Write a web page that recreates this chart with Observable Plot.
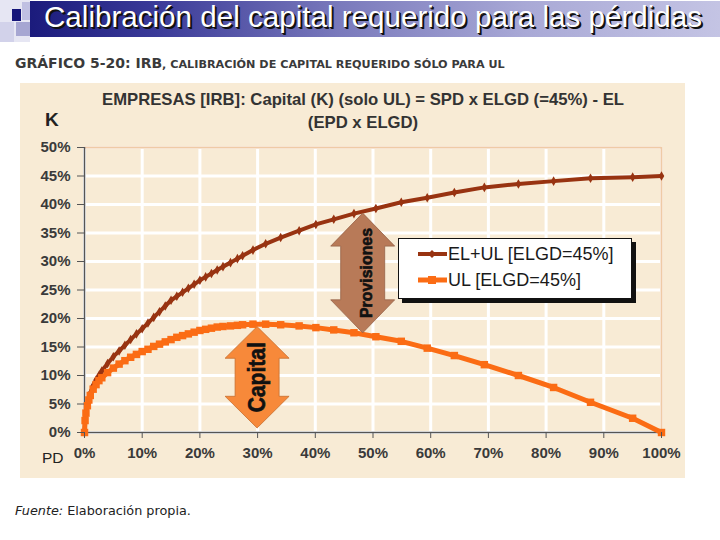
<!DOCTYPE html>
<html>
<head>
<meta charset="utf-8">
<script src="https://cdn.jsdelivr.net/npm/d3@7"></script>
<script src="https://cdn.jsdelivr.net/npm/@observablehq/plot@0.6"></script>
<style>
  html, body { margin: 0; padding: 0; background: #ffffff; }
  #page { position: relative; width: 720px; height: 540px; overflow: hidden; background: #fff; font-family: "Liberation Sans", Arial, sans-serif; }
  .abs { position: absolute; }
  #banner { left: 30px; top: 1px; width: 690px; height: 36px;
    background: linear-gradient(to right, #1b1b7c 0%, #3a3a98 18%, #7a7abc 45%, #a9a9d6 72%, #c4c4e4 100%); }
  #bannerText { left: 44px; top: 0px; font-size: 29.6px; color: #fff; white-space: nowrap;
    text-shadow: 2px 2px 0 #111, 1px 1px 0 #111; }
  #sub { left: 15px; top: 53px; font-family: "DejaVu Sans", Verdana, sans-serif; font-weight: bold; color: #3a3a3a; white-space: nowrap; }
  #sub .big { font-size: 14px; }
  #sub .small { font-size: 11.2px; }
  #panel { left: 20px; top: 83px; width: 665px; height: 395px; background: #f8ebd5; }
  #ctitle { left: 60px; width: 606px; top: 88px; text-align: center; font-size: 16.7px; font-weight: bold; color: #333; line-height: 23px; }
  #klab { left: 45px; top: 109px; font-size: 19px; font-weight: bold; color: #222; }
  #pdlab { left: 42px; top: 449px; font-size: 15.5px; color: #222; }
  #legend { left: 398px; top: 238px; width: 232px; height: 59px; background: #fff; border: 1.5px solid #111; box-shadow: 4px 4px 0 #111; }
  .lrow { position: absolute; left: 18px; height: 24px; display: flex; align-items: center; font-size: 18px; color: #1a1a1a; white-space: nowrap; }
  #source { left: 15px; top: 503px; font-family: "DejaVu Sans", Verdana, sans-serif; font-size: 12.8px; color: #222; }
</style>
</head>
<body>
<div id="page">
  <div class="abs" style="left:0;top:0;width:30px;height:42px;background:#e6e6f3"></div>
  <div class="abs" style="left:0;top:22px;width:14px;height:20px;background:#d2d2ea"></div>
  <div class="abs" style="left:16px;top:22px;width:14px;height:14px;background:#a6a6d2"></div>
  <div class="abs" style="left:12px;top:9px;width:9px;height:12px;background:#15157a"></div>
  <div class="abs" style="left:22px;top:2px;width:8px;height:18px;background:#c0c0e2"></div>
  <div id="banner" class="abs"></div>
  <div id="bannerText" class="abs">Calibración del capital requerido para las pérdidas</div>
  <div id="sub" class="abs"><span class="big">GRÁFICO 5-20: IRB</span><span class="small">, CALIBRACIÓN DE CAPITAL REQUERIDO SÓLO PARA UL</span></div>
  <div id="panel" class="abs"></div>
  <div id="chart" class="abs" style="left:20px;top:83px;"></div>
  <div id="ctitle" class="abs"></div>
  <div id="klab" class="abs">K</div>
  <div id="pdlab" class="abs">PD</div>
  <div id="legend" class="abs"></div>
  <div id="source" class="abs"><i>Fuente:</i> Elaboración propia.</div>
</div>
<script>
// ---- data ----
const pd = [0, 0.1, 0.25, 0.5, 0.75, 1, 1.5, 2, 2.5, 3, 4, 5, 6, 7, 8, 9, 10, 11, 12, 13, 14, 15, 16, 17, 18, 19, 20, 21, 22, 23, 24, 25.3, 26.5, 27.4, 29.2, 31.4, 34, 37.2, 40.1, 43.2, 46.7, 50.5, 54.9, 59.4, 64.1, 69.3, 75.2, 81.3, 87.7, 95, 100];
const elUl = [0, 2.2, 3.5, 4.9, 6.0, 6.9, 8.2, 9.2, 10.0, 10.8, 12.1, 13.3, 14.3, 15.3, 16.3, 17.3, 18.2, 19.2, 20.2, 21.2, 22.2, 23.2, 23.9, 24.6, 25.3, 26.0, 26.7, 27.3, 27.9, 28.5, 29.1, 29.8, 30.5, 31.0, 32.0, 33.1, 34.2, 35.4, 36.5, 37.4, 38.4, 39.3, 40.4, 41.2, 42.1, 43.0, 43.6, 44.1, 44.6, 44.8, 45.0];
const ulOnly = [0, 2.1, 3.4, 4.7, 5.7, 6.5, 7.6, 8.4, 9.1, 9.6, 10.5, 11.3, 12.0, 12.6, 13.2, 13.7, 14.2, 14.6, 15.1, 15.5, 15.9, 16.3, 16.7, 17.0, 17.3, 17.6, 17.9, 18.1, 18.3, 18.5, 18.6, 18.7, 18.8, 18.9, 19.0, 19.0, 18.9, 18.7, 18.4, 18.0, 17.5, 16.8, 16.0, 14.8, 13.5, 11.9, 10.0, 7.9, 5.3, 2.5, 0];
const seriesNames = ["EL+UL [ELGD=45%]", "UL [ELGD=45%]"];
const xTicks = [0, 10, 20, 30, 40, 50, 60, 70, 80, 90, 100];
const yTicks = [0, 5, 10, 15, 20, 25, 30, 35, 40, 45, 50];
const chartTitle = ["EMPRESAS [IRB]: Capital (K) (solo UL) = SPD x ELGD (=45%) - EL", "(EPD x ELGD)"];
const arrowLabels = ["Capital", "Provisiones"];
const arrowX = [30, 48.3];
const arrowFrom = [0.7, 17.4];
const arrowTo = [18.5, 38.4];

// ---- styles ----
const darkColor = "#983311";
const orangeColor = "#fb6c14";
const arrowFills = ["#f7893a", "#b87a58"];
const arrowFont = [23, 17];
const arrowTextLen = [70, 90];

const rowsEl = pd.map((p, i) => ({pd: p, k: elUl[i], s: seriesNames[0]}));
const rowsUl = pd.map((p, i) => ({pd: p, k: ulOnly[i], s: seriesNames[1]}));
const arrows = arrowLabels.map((l, i) => ({label: l, x: arrowX[i], y1: arrowFrom[i], y2: arrowTo[i], fill: arrowFills[i], fs: arrowFont[i], len: arrowTextLen[i]}));

document.getElementById("ctitle").innerHTML = chartTitle.join("<br>");

function arrowMark(index, scales) {
  const g = d3.create("svg:g");
  for (const a of arrows) {
    const cx = scales.x(a.x), top = scales.y(a.y2), bot = scales.y(a.y1);
    const HW = 32, SW = 22, HH = Math.min(33, (bot - top) / 3.2);
    const pts = [[cx, top], [cx + HW, top + HH], [cx + SW, top + HH], [cx + SW, bot - HH], [cx + HW, bot - HH], [cx, bot],
                 [cx - HW, bot - HH], [cx - SW, bot - HH], [cx - SW, top + HH], [cx - HW, top + HH]];
    g.append("polygon").attr("points", pts.map(p => p.join(",")).join(" "))
      .attr("fill", a.fill).attr("stroke", d3.color(a.fill).darker(0.6)).attr("stroke-width", 0.8);
    const my = (top + bot) / 2;
    g.append("text").attr("transform", `translate(${cx + (a.fs > 20 ? 0 : 3)},${my}) rotate(-90)`)
      .attr("text-anchor", "middle").attr("dy", "0.36em")
      .attr("font-family", "'Liberation Sans', Arial, sans-serif")
      .attr("font-weight", "bold").attr("font-size", a.fs)
      .attr("textLength", a.len).attr("lengthAdjust", "spacingAndGlyphs")
      .attr("stroke", "#111").attr("stroke-width", 0.6)
      .attr("fill", "#111").text(a.label);
  }
  return g.node();
}

const chart = Plot.plot({
  width: 665,
  height: 395,
  marginLeft: 64,
  marginRight: 24,
  marginTop: 64,
  marginBottom: 46,
  style: {background: "transparent", fontFamily: "'Liberation Sans', Arial, sans-serif", fontSize: "15px", fontWeight: "bold", color: "#3a3a3a"},
  x: {domain: [0, 100]},
  y: {domain: [0, 50]},
  marks: [
    Plot.gridX(xTicks, {stroke: "#ffffff", strokeWidth: 3, strokeOpacity: 1}),
    Plot.gridY(yTicks, {stroke: "#ffffff", strokeWidth: 3, strokeOpacity: 1}),
    Plot.ruleY([50], {stroke: "#efcaa6", strokeWidth: 2}),
    Plot.ruleX([100], {stroke: "#efcaa6", strokeWidth: 2}),
    Plot.ruleX([0], {stroke: "#555", strokeWidth: 1.5}),
    Plot.ruleY([0], {stroke: "#555", strokeWidth: 1.5}),
    Plot.line(rowsEl, {x: "pd", y: "k", stroke: darkColor, strokeWidth: 4}),
    Plot.dot(rowsEl, {x: "pd", y: "k", symbol: "diamond", r: 2.9, fill: darkColor}),
    Plot.line(rowsUl, {x: "pd", y: "k", stroke: orangeColor, strokeWidth: 5}),
    Plot.dot(rowsUl, {x: "pd", y: "k", symbol: "square", r: 4.2, fill: orangeColor}),
    arrowMark,
    Plot.axisY({ticks: yTicks, tickFormat: d => d + "%", tickSize: 7, tickPadding: 7, stroke: "#555", fill: "#3a3a3a", label: null}),
    Plot.axisX({ticks: xTicks, tickFormat: d => d + "%", tickSize: 6, tickPadding: 9, stroke: "#555", fill: "#3a3a3a", label: null})
  ]
});
document.getElementById("chart").appendChild(chart);

// legend
const lg = document.getElementById("legend");
const sw = [
  {name: seriesNames[0], color: darkColor, sym: "diamond"},
  {name: seriesNames[1], color: orangeColor, sym: "square"}
];
sw.forEach((s, i) => {
  const row = document.createElement("div");
  row.className = "lrow";
  row.style.top = (i === 0 ? 3 : 29) + "px";
  const marker = s.sym === "diamond"
    ? `<polygon points="15,8 19,12 15,16 11,12" fill="${s.color}"/>`
    : `<rect x="11" y="8" width="8" height="8" fill="${s.color}"/>`;
  row.innerHTML = `<svg width="31" height="24"><line x1="1" x2="30" y1="12" y2="12" stroke="${s.color}" stroke-width="${i === 0 ? 4 : 5}"/>${marker}</svg><span>${s.name}</span>`;
  lg.appendChild(row);
});
</script>
</body>
</html>
